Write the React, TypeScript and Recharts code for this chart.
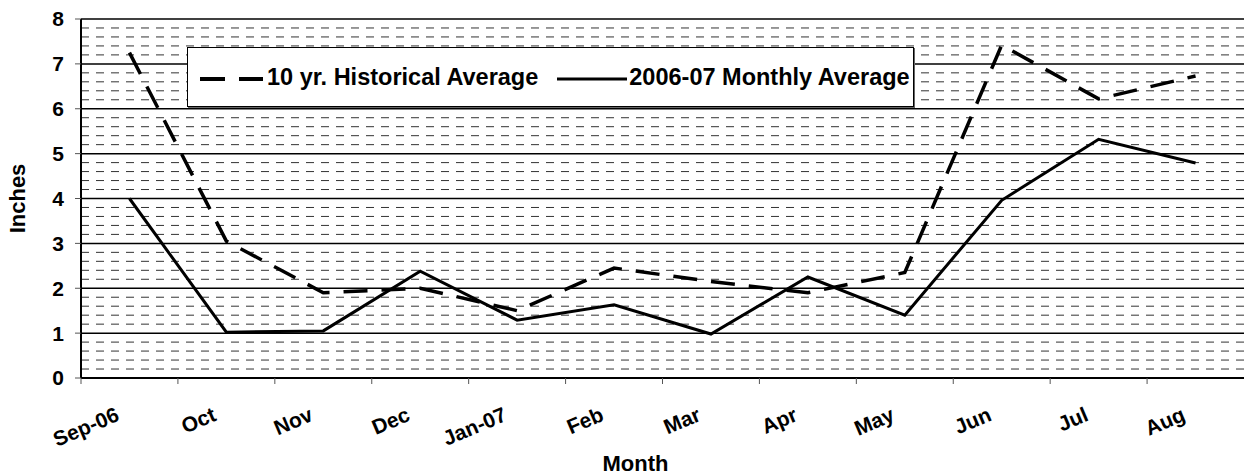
import React from 'react';
import { LineChart, Line, XAxis, YAxis, CartesianGrid, ReferenceLine, Legend } from 'recharts';

const months = ['Sep-06', 'Oct', 'Nov', 'Dec', 'Jan-07', 'Feb', 'Mar', 'Apr', 'May', 'Jun', 'Jul', 'Aug'];
const historical = [7.25, 3.05, 1.9, 2.0, 1.5, 2.45, 2.15, 1.9, 2.35, 7.42, 6.22, 6.73];
const monthly = [4.0, 1.02, 1.05, 2.38, 1.29, 1.63, 0.98, 2.25, 1.4, 3.96, 5.32, 4.79];
const yTicks = [0, 1, 2, 3, 4, 5, 6, 7, 8];
const seriesNames = ['10 yr. Historical Average', '2006-07 Monthly Average'];

const minorValues: number[] = [];
for (let k = 1; k < 40; k++) {
  if (k % 5 !== 0) minorValues.push(Math.round(k * 2) / 10);
}

const data = months.map((m, i) => ({ month: m, hist: historical[i], monthly: monthly[i] }));

const FONT = '"Liberation Sans", Arial, sans-serif';
const W = 1244;
const H = 475;
const Y_AXIS_W = 81;
const X_AXIS_H = 97;
const TOP = 19;
const HALF_BAND = (W - Y_AXIS_W) / months.length / 2;

function MonthTick(props: any) {
  const { x, y, payload } = props;
  const bx = x - HALF_BAND;
  const ax = x - 9;
  const ay = y + 36;
  return (
    <g>
      <line x1={bx} x2={bx} y1={y - 6} y2={y} stroke="#555" strokeWidth={1} />
      <text
        x={ax}
        y={ay}
        textAnchor="end"
        transform={`rotate(-23, ${ax}, ${ay})`}
        fontFamily={FONT}
        fontWeight="bold"
        fontSize={21}
        fill="#000"
      >
        {payload.value}
      </text>
    </g>
  );
}

function InchesLabel(props: any) {
  const vb = props.viewBox || { x: 0, y: TOP, width: Y_AXIS_W, height: H - TOP - X_AXIS_H };
  const cx = vb.x + 25;
  const cy = vb.y + vb.height / 2;
  return (
    <text
      x={cx}
      y={cy}
      textAnchor="middle"
      transform={`rotate(-90, ${cx}, ${cy})`}
      fontFamily={FONT}
      fontWeight="bold"
      fontSize={22}
      fill="#000"
    >
      Inches
    </text>
  );
}

function LegendBox(props: any) {
  const payload = props.payload || [];
  return (
    <div
      style={{
        boxSizing: 'border-box',
        width: 727,
        height: 60,
        background: '#fff',
        border: '1px solid #000',
        boxShadow: '1px 1px 0 #666',
        display: 'flex',
        alignItems: 'center',
        fontFamily: FONT,
        fontWeight: 'bold',
        fontSize: 23.5,
        color: '#000',
        whiteSpace: 'nowrap',
        paddingLeft: 12,
      }}
    >
      {payload.map((item: any, i: number) => {
        const dashed = item.dataKey === 'hist';
        return (
          <React.Fragment key={i}>
            <svg
              width={dashed ? 63 : 70}
              height={8}
              style={{ marginLeft: i === 0 ? 0 : 19, marginTop: 4 }}
            >
              <line
                x1={0}
                y1={4}
                x2={dashed ? 63 : 70}
                y2={4}
                stroke="#000"
                strokeWidth={dashed ? 4 : 3}
                strokeDasharray={dashed ? '25 14' : undefined}
              />
            </svg>
            <span style={{ marginLeft: dashed ? 4 : 2 }}>{item.value}</span>
          </React.Fragment>
        );
      })}
    </div>
  );
}

export default function App() {
  return (
    <div style={{ position: 'absolute', left: 0, top: 0, width: W, height: H, background: '#fff' }}>
      <LineChart width={W} height={H} data={data} margin={{ top: TOP, right: 0, left: 0, bottom: 0 }}>
        <CartesianGrid vertical={false} stroke="#000" strokeWidth={1.5} />
        {minorValues.map((v) => (
          <ReferenceLine key={v} y={v} stroke="#333" strokeWidth={1} strokeDasharray="8 7" />
        ))}
        <XAxis
          dataKey="month"
          scale="band"
          height={X_AXIS_H}
          axisLine={{ stroke: '#000', strokeWidth: 2 }}
          tickLine={false}
          tickSize={6}
          tickMargin={0}
          interval={0}
          tick={<MonthTick />}
          label={{
            value: 'Month',
            position: 'insideBottom',
            offset: 4,
            dx: -27,
            style: { fontFamily: FONT, fontWeight: 'bold', fontSize: 22, fill: '#000' },
          }}
        />
        <YAxis
          width={Y_AXIS_W}
          domain={[0, 8]}
          ticks={yTicks}
          interval={0}
          axisLine={{ stroke: '#000', strokeWidth: 2 }}
          tickLine={{ stroke: '#555', strokeWidth: 1 }}
          tickSize={6}
          tickMargin={11}
          tick={{ fontFamily: FONT, fontWeight: 'bold', fontSize: 21, fill: '#000' }}
          label={<InchesLabel />}
        />
        <Legend
          layout="horizontal"
          verticalAlign="middle"
          align="center"
          content={<LegendBox />}
          wrapperStyle={{ left: 187, top: 47, width: 727, height: 60 }}
        />
        <Line
          type="linear"
          dataKey="hist"
          name={seriesNames[0]}
          stroke="#000"
          strokeWidth={3.5}
          strokeDasharray="24 14"
          dot={false}
          activeDot={false}
          isAnimationActive={false}
        />
        <Line
          type="linear"
          dataKey="monthly"
          name={seriesNames[1]}
          stroke="#000"
          strokeWidth={3}
          dot={false}
          activeDot={false}
          isAnimationActive={false}
        />
      </LineChart>
    </div>
  );
}
